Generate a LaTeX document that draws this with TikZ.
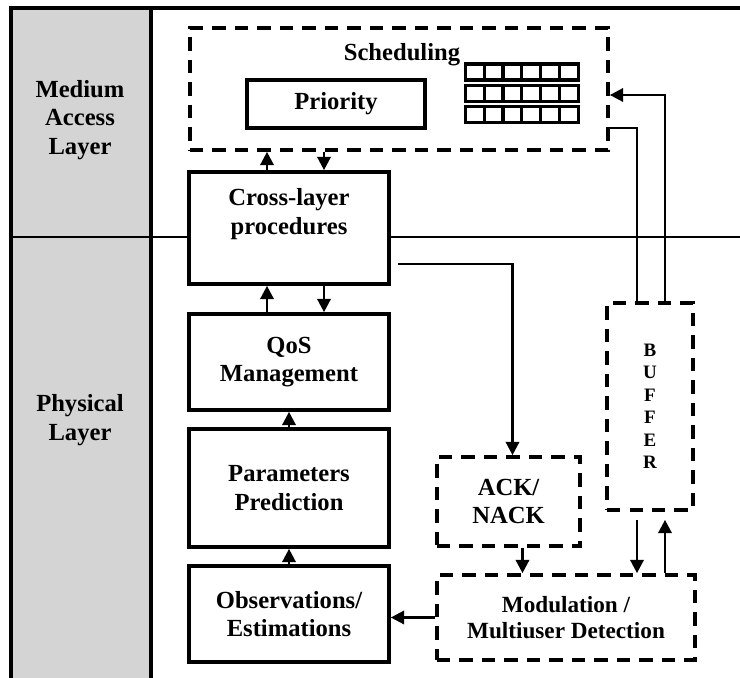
\documentclass[tikz,border=0pt]{standalone}
\usepackage{fontspec}
\setmainfont{Liberation Serif}
\usepackage{tikz}
\usetikzlibrary{arrows.meta}

\begin{document}
\begin{tikzpicture}[font=\bfseries\fontsize{17.5}{20.5}\selectfont]
\useasboundingbox (0,0) rectangle (18.5,-16.95);
% layer column and frame
\fill[black!17] (0.275,-0.2) rectangle (3.775,-16.95);
\draw[line width=2.5pt] (18.5,-0.2) -- (0.275,-0.2) -- (0.275,-16.95);
\draw[line width=2.5pt] (3.775,-0.2) -- (3.775,-16.95);
\draw[line width=2pt] (0.275,-5.925) -- (18.5,-5.925);

\begin{scope}[solidbox/.style={draw,line width=2.6pt,fill=white,align=center},
              dashbox/.style={draw,line width=2.6pt,dash pattern=on 9.5pt off 6.5pt,align=center}]
    \node (mac) at (2.0,-3.0) [align=center] {Medium\\Access\\Layer};
    \node (phy) at (2.0,-10.5) [align=center] {Physical\\Layer};

    \node (sched) at (9.975,-2.225) [dashbox,minimum width=10.45cm,minimum height=3.05cm] {};
    \node (schedtext) at (10.05,-1.375) {Scheduling};
    \node (prio) at (8.4,-2.6) [solidbox,minimum width=4.45cm,minimum height=1.2cm] {Priority};

    \node (cl) at (7.225,-5.7) [solidbox,minimum width=5cm,minimum height=2.8cm] {};
    \node (cltext) at ([yshift=-1.1cm]cl.north) [align=center] {Cross-layer\\procedures};
    \node (qos) at (7.225,-9.05) [solidbox,minimum width=5cm,minimum height=2.4cm] {QoS\\Management};
    \node (par) at (7.225,-12.2) [solidbox,minimum width=5cm,minimum height=2.95cm] {Parameters\\Prediction};
    \node (obs) at (7.225,-15.35) [solidbox,minimum width=5cm,minimum height=2.4cm] {Observations/\\Estimations};

    \node (ack) at (12.7125,-12.5375) [dashbox,minimum width=3.575cm,minimum height=2.225cm] {ACK/\\NACK};
    \node (mod) at (14.15,-15.4375) [dashbox,minimum width=6.45cm,minimum height=2.125cm,
        font=\bfseries\fontsize{16.5}{18.5}\selectfont] {Modulation /\\Multiuser Detection};
    \node (buf) at (16.25,-10.1625) [dashbox,minimum width=2.15cm,minimum height=5.175cm,
        font=\bfseries\fontsize{13.5}{16}\selectfont] {B\\U\\F\\F\\E\\R};
\end{scope}

% queue grid
\foreach \r in {0,1,2}
    \foreach \c in {0,...,5}
        \draw[line width=2.4pt] (11.635+\c*0.47,-1.6-\r*0.535) rectangle ++(0.47,-0.4);

\coordinate (xa) at (6.675,0);
\coordinate (xb) at (8.1,0);
\coordinate (xc) at (15.925,0);
\coordinate (xd) at (16.625,0);

\begin{scope}[>={Triangle[length=9.5pt,width=9.5pt]},
              every edge/.style={draw=black,line width=1.8pt}]
    \path [->] (cl.north -| xa) edge (sched.south -| xa);
    \path [->] (sched.south -| xb) edge (cl.north -| xb);
    \path [->] (qos.north -| xa) edge (cl.south -| xa);
    \path [->] (cl.south -| xb) edge (qos.north -| xb);
    \path [->] (par.north) edge (qos.south);
    \path [->] (obs.north) edge (par.south);
    \path [->] ([xshift=0.35cm]ack.south) edge ([xshift=0.35cm]ack.south |- mod.north);
    \path [->] ([yshift=-0.2cm]buf.south -| xc) edge (mod.north -| xc);
    \path [->] (mod.north -| xd) edge ([yshift=-0.2cm]buf.south -| xd);
    \path [->] (mod.west -| ack.west) edge (mod.west -| obs.east);
    \draw [->,line width=1.8pt] ([xshift=0.175cm,yshift=-0.9cm]cl.east) -| ([xshift=0.1cm]ack.north);
    \draw [->,line width=1.8pt] (buf.north -| xd) |- ([yshift=-0.15cm]sched.east);
    \draw [line width=1.8pt] ([yshift=-0.975cm]sched.east) -| (buf.north -| xc);
\end{scope}
\end{tikzpicture}
\end{document}
